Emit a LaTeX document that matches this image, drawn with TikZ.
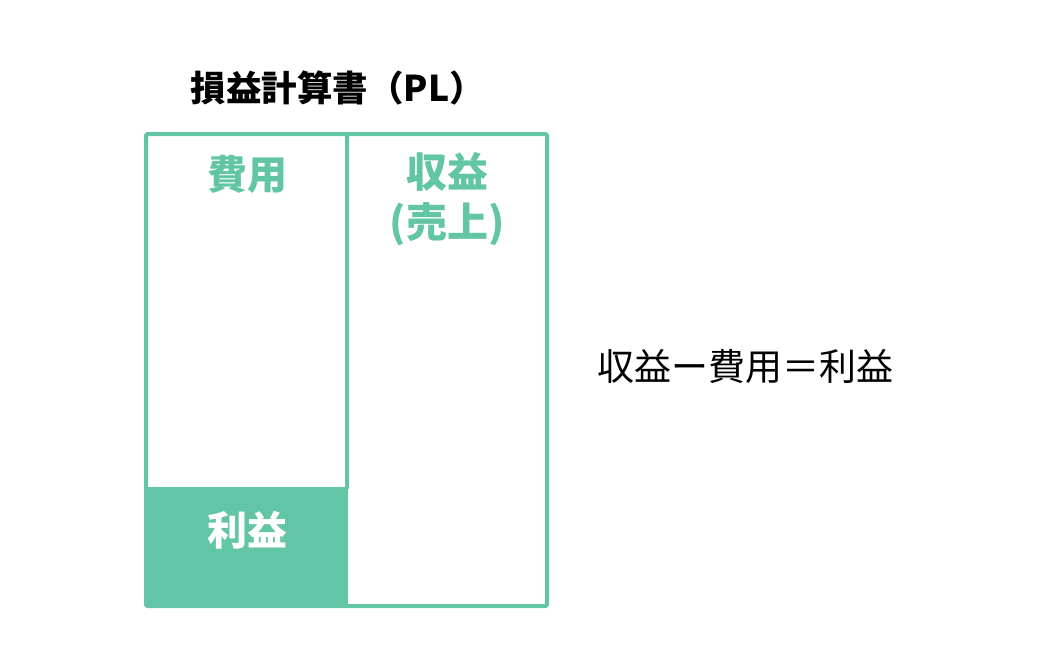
\documentclass[tikz,border=0pt]{standalone}
\usepackage{fontspec}
\setmainfont{Noto Sans CJK JP}
\definecolor{pgreen}{RGB}{98,197,165}
\begin{document}
\begin{tikzpicture}[x=1pt,y=-1pt,
  lbl/.style={font=\fontsize{40}{44}\selectfont\bfseries, text=pgreen, inner sep=0pt, align=center},
  frame/.style={draw=pgreen, line width=4pt}]
\useasboundingbox (0,0) rectangle (1059,658);
% profit fill
\fill[pgreen] (146,489) rectangle (348,606);
% outer frame and divider
\draw[frame, rounded corners=1.5pt] (146,134) rectangle (547,606);
\draw[frame] (347,134) -- (347,489);
\draw[frame] (146,489) -- (347,489);
% texts
\node[font=\fontsize{35.5}{38}\selectfont\bfseries, inner sep=0pt] (title) at (338,88) {損益計算書（PL）};
\node[lbl] (hiyou) at (247,174) {費用};
\node[lbl, font=\fontsize{41}{50}\selectfont\bfseries] (shueki) at (447,199) {収益\\(売上)};
\node[lbl, text=white] (rieki) at (247,530) {利益};
\node[font=\fontsize{37}{40}\selectfont, inner sep=0pt] (eq) at (745,366) {収益ー費用＝利益};
\end{tikzpicture}
\end{document}
